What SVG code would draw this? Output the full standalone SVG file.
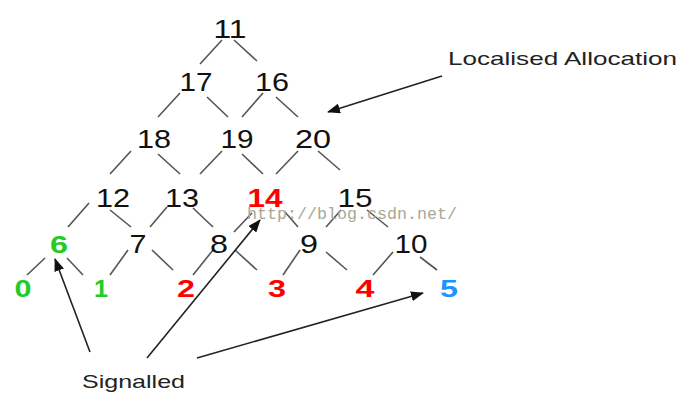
<svg xmlns="http://www.w3.org/2000/svg" width="684" height="404" viewBox="0 0 684 404">
<style>
.n{font-family:"Liberation Sans",Arial,sans-serif;font-size:26px;fill:#111;text-anchor:middle}
.b{font-family:"Liberation Sans",Arial,sans-serif;font-size:24px;font-weight:bold;text-anchor:middle}
.g{fill:#22cc22}.r{fill:#ff0000}.bl{fill:#1a94ff}
.lbl{font-family:"Liberation Sans",Arial,sans-serif;font-size:19px;fill:#222}
.wm{font-family:"Liberation Mono","DejaVu Sans Mono",monospace;font-size:16px;fill:#a8a898}
.e line{stroke:#555;stroke-width:1.6}
.a line{stroke:#222;stroke-width:1.6;marker-end:url(#ah)}
</style>
<defs>
<marker id="ah" markerUnits="userSpaceOnUse" markerWidth="14" markerHeight="10" refX="12" refY="5" orient="auto">
<path d="M0,0 L13,5 L0,10 z" fill="#111"/>
</marker>
</defs>
<rect width="684" height="404" fill="#fff"/>
<g id="connectors">
<g class="e">
<line x1="222" y1="40" x2="200" y2="64"/>
<line x1="234" y1="40" x2="257" y2="61"/>
<line x1="180" y1="93" x2="158" y2="117"/>
<line x1="207" y1="97" x2="228" y2="117"/>
<line x1="263" y1="93" x2="242" y2="117"/>
<line x1="276" y1="97" x2="298" y2="117"/>
<line x1="131" y1="151" x2="110" y2="174"/>
<line x1="158" y1="154" x2="180" y2="174"/>
<line x1="222" y1="151" x2="200" y2="174"/>
<line x1="242" y1="154" x2="263" y2="174"/>
<line x1="298" y1="151" x2="276" y2="174"/>
<line x1="318" y1="151" x2="340" y2="170"/>
<line x1="89" y1="203" x2="68" y2="227"/>
<line x1="110" y1="210" x2="131" y2="227"/>
<line x1="167" y1="207" x2="150" y2="227"/>
<line x1="193" y1="208" x2="213" y2="227"/>
<line x1="252" y1="213" x2="234" y2="232"/>
<line x1="285" y1="212" x2="298" y2="227"/>
<line x1="341" y1="210" x2="326" y2="227"/>
<line x1="367" y1="210" x2="388" y2="227"/>
<line x1="45" y1="258" x2="27" y2="275"/>
<line x1="67" y1="258" x2="83" y2="275"/>
<line x1="128" y1="250" x2="110" y2="275"/>
<line x1="152" y1="250" x2="173" y2="270"/>
<line x1="213" y1="250" x2="193" y2="275"/>
<line x1="235" y1="250" x2="257" y2="270"/>
<line x1="300" y1="250" x2="283" y2="275"/>
<line x1="326" y1="252" x2="347" y2="270"/>
<line x1="393" y1="252" x2="373" y2="275"/>
<line x1="420" y1="257" x2="437" y2="270"/>
</g>
<g class="a">
<line x1="442" y1="76" x2="328" y2="112"/>
<line x1="90" y1="352" x2="55" y2="259"/>
<line x1="147" y1="358" x2="260" y2="220"/>
<line x1="197" y1="358" x2="423" y2="293"/>
</g>
</g>
<g id="n11"><text class="n" x="230" y="38" textLength="33" lengthAdjust="spacingAndGlyphs">11</text></g>
<g id="n17"><text class="n" x="196" y="91" textLength="33" lengthAdjust="spacingAndGlyphs">17</text></g>
<g id="n16"><text class="n" x="272" y="91" textLength="34" lengthAdjust="spacingAndGlyphs">16</text></g>
<g id="n18"><text class="n" x="154" y="148" textLength="34" lengthAdjust="spacingAndGlyphs">18</text></g>
<g id="n19"><text class="n" x="237" y="148" textLength="33" lengthAdjust="spacingAndGlyphs">19</text></g>
<g id="n20"><text class="n" x="313" y="148" textLength="36" lengthAdjust="spacingAndGlyphs">20</text></g>
<g id="n12"><text class="n" x="113" y="207" textLength="34" lengthAdjust="spacingAndGlyphs">12</text></g>
<g id="n13"><text class="n" x="182" y="207" textLength="34" lengthAdjust="spacingAndGlyphs">13</text></g>
<g id="n14"><text class="b r" x="265" y="207" style="font-size:26px" textLength="35" lengthAdjust="spacingAndGlyphs">14</text></g>
<g id="n15"><text class="n" x="355" y="207" textLength="35" lengthAdjust="spacingAndGlyphs">15</text></g>
<g id="n6"><text class="b g" x="59" y="253" textLength="18" lengthAdjust="spacingAndGlyphs">6</text></g>
<g id="n7"><text class="n" x="138" y="253" textLength="17" lengthAdjust="spacingAndGlyphs">7</text></g>
<g id="n8"><text class="n" x="219" y="253" textLength="18" lengthAdjust="spacingAndGlyphs">8</text></g>
<g id="n9"><text class="n" x="309" y="253" textLength="18" lengthAdjust="spacingAndGlyphs">9</text></g>
<g id="n10"><text class="n" x="411" y="253" textLength="33" lengthAdjust="spacingAndGlyphs">10</text></g>
<g id="n0"><text class="b g" x="23" y="297" textLength="17" lengthAdjust="spacingAndGlyphs">0</text></g>
<g id="n1"><text class="b g" x="101" y="297" textLength="14" lengthAdjust="spacingAndGlyphs">1</text></g>
<g id="n2"><text class="b r" x="186" y="297" textLength="18" lengthAdjust="spacingAndGlyphs">2</text></g>
<g id="n3"><text class="b r" x="277" y="297" textLength="18" lengthAdjust="spacingAndGlyphs">3</text></g>
<g id="n4"><text class="b r" x="365" y="297" textLength="19" lengthAdjust="spacingAndGlyphs">4</text></g>
<g id="n5"><text class="b bl" x="449" y="297" textLength="18" lengthAdjust="spacingAndGlyphs">5</text></g>
<g id="localised"><text class="lbl" x="448" y="65" textLength="229" lengthAdjust="spacingAndGlyphs">Localised Allocation</text></g>
<g id="signalled"><text class="lbl" x="82" y="388" textLength="103" lengthAdjust="spacingAndGlyphs">Signalled</text></g>
<text class="wm" x="247" y="219" textLength="210" lengthAdjust="spacingAndGlyphs">http://blog.csdn.net/</text>
</svg>
